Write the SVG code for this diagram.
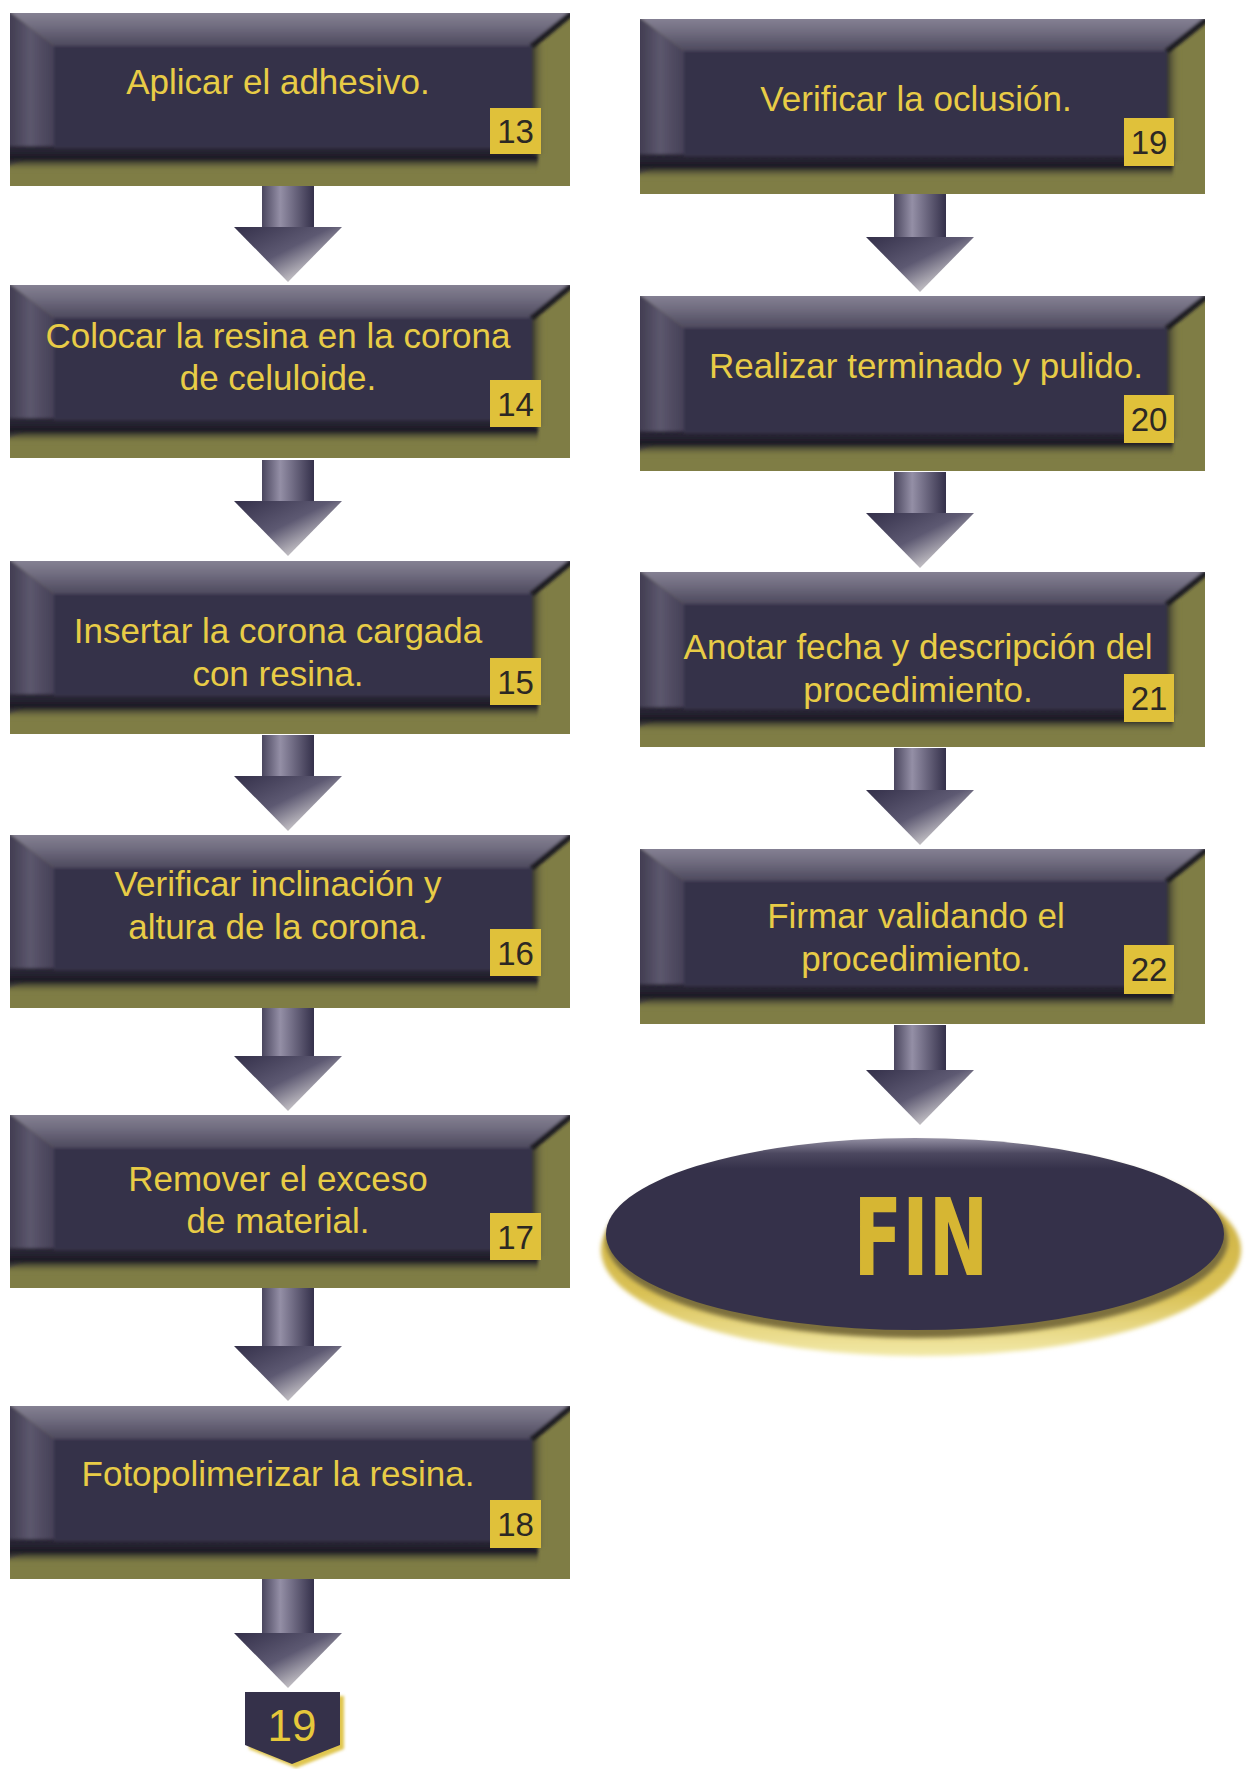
<svg xmlns="http://www.w3.org/2000/svg" xmlns:xlink="http://www.w3.org/1999/xlink" width="1246" height="1769" viewBox="0 0 1246 1769">
<style>
.t{font-family:"Liberation Sans",Arial,sans-serif;font-size:35px;fill:#e8cc46;text-anchor:middle}
.bd{fill:#e0c13a}
.bn{font-family:"Liberation Sans",Arial,sans-serif;font-size:33px;fill:#2c2824;text-anchor:middle}
.sh{fill:url(#gShaft)}
.hd{fill:url(#gHead)}
</style>
<defs>
<linearGradient id="gTop" x1="0" y1="0" x2="0" y2="1">
<stop offset="0" stop-color="#8a8698"/><stop offset="0.45" stop-color="#716d80"/><stop offset="1" stop-color="#4d495d"/>
</linearGradient>
<linearGradient id="gLeft" x1="0" y1="0" x2="1" y2="0">
<stop offset="0" stop-color="#3c384c"/><stop offset="0.5" stop-color="#5c576d"/><stop offset="1" stop-color="#443f56"/>
</linearGradient>
<linearGradient id="gBot" x1="0" y1="0" x2="0" y2="1">
<stop offset="0" stop-color="#2c2838"/><stop offset="0.5" stop-color="#1c1a24"/><stop offset="1" stop-color="#7f7d45" stop-opacity="0"/>
</linearGradient>
<linearGradient id="gRight" x1="0" y1="0" x2="1" y2="0">
<stop offset="0" stop-color="#1c1a24"/><stop offset="1" stop-color="#7f7d45" stop-opacity="0"/>
</linearGradient>
<linearGradient id="gShaft" x1="0" y1="0" x2="1" y2="0">
<stop offset="0" stop-color="#4a465e"/><stop offset="0.35" stop-color="#948fa6"/><stop offset="1" stop-color="#34304a"/>
</linearGradient>
<linearGradient id="gHead" x1="0" y1="0" x2="1" y2="1">
<stop offset="0" stop-color="#34304a"/><stop offset="0.45" stop-color="#5d5972"/><stop offset="0.72" stop-color="#b8b5bc"/><stop offset="1" stop-color="#faf9e8"/>
</linearGradient>
<linearGradient id="gEll" x1="0" y1="0" x2="0" y2="1">
<stop offset="0" stop-color="#9490a4"/><stop offset="0.08" stop-color="#4c4860"/><stop offset="0.16" stop-color="#35314a"/><stop offset="1" stop-color="#35314a"/>
</linearGradient>
<linearGradient id="gGold" x1="0" y1="0" x2="0" y2="1">
<stop offset="0" stop-color="#c8a83a"/><stop offset="0.7" stop-color="#d9c155"/><stop offset="1" stop-color="#f2e9a8"/>
</linearGradient>
<filter id="blur2" x="-10%" y="-10%" width="120%" height="120%"><feGaussianBlur stdDeviation="2"/></filter>
<filter id="blur1" x="-10%" y="-10%" width="120%" height="120%"><feGaussianBlur stdDeviation="1.5"/></filter>
<clipPath id="cL"><rect width="560" height="173"/></clipPath>
<clipPath id="cR"><rect width="565" height="175"/></clipPath>
<g id="boxL">
<rect width="560" height="173" fill="#7f7d45"/>
<g clip-path="url(#cL)"><g filter="url(#blur1)">
<path d="M-4,-4 H566 L522,33 H44 Z" fill="url(#gTop)"/>
<path d="M-4,-4 L44,33 V135 L-4,154 Z" fill="url(#gLeft)"/>
<rect x="-4" y="133" width="532" height="26" fill="url(#gBot)"/>
<rect x="520" y="30" width="16" height="112" fill="url(#gRight)"/>
<path d="M562,0 L522,33" stroke="#1c1a24" stroke-width="6"/>
<rect x="44" y="33" width="478" height="102" fill="#35314a"/>
</g></g>
</g>
<g id="boxR">
<rect width="565" height="175" fill="#7f7d45"/>
<g clip-path="url(#cR)"><g filter="url(#blur1)">
<path d="M-4,-4 H571 L527,32 H44 Z" fill="url(#gTop)"/>
<path d="M-4,-4 L44,32 V137 L-4,156 Z" fill="url(#gLeft)"/>
<rect x="-4" y="135" width="537" height="26" fill="url(#gBot)"/>
<rect x="525" y="29" width="16" height="114" fill="url(#gRight)"/>
<path d="M567,0 L527,32" stroke="#1c1a24" stroke-width="6"/>
<rect x="44" y="32" width="483" height="105" fill="#35314a"/>
</g></g>
</g>
</defs>
<rect width="1246" height="1769" fill="#ffffff"/>

<g id="connectors">
<g><rect class="sh" x="262" y="186" width="52" height="42"/><path class="hd" d="M234,227 H342 L288,282 Z"/></g>
<g><rect class="sh" x="262" y="460" width="52" height="42"/><path class="hd" d="M234,501 H342 L288,556 Z"/></g>
<g><rect class="sh" x="262" y="735" width="52" height="42"/><path class="hd" d="M234,776 H342 L288,831 Z"/></g>
<g><rect class="sh" x="262" y="1008" width="52" height="49"/><path class="hd" d="M234,1056 H342 L288,1111 Z"/></g>
<g><rect class="sh" x="262" y="1288" width="52" height="59"/><path class="hd" d="M234,1346 H342 L288,1401 Z"/></g>
<g><rect class="sh" x="262" y="1579" width="52" height="55"/><path class="hd" d="M234,1633 H342 L288,1688 Z"/></g>
<g><rect class="sh" x="894" y="194" width="52" height="44"/><path class="hd" d="M866,237 H974 L920,292 Z"/></g>
<g><rect class="sh" x="894" y="472" width="52" height="42"/><path class="hd" d="M866,513 H974 L920,568 Z"/></g>
<g><rect class="sh" x="894" y="748" width="52" height="43"/><path class="hd" d="M866,790 H974 L920,845 Z"/></g>
<g><rect class="sh" x="894" y="1025" width="52" height="46"/><path class="hd" d="M866,1070 H974 L920,1125 Z"/></g>
</g>

<g id="n13"><use xlink:href="#boxL" x="10" y="13"/><text class="t" x="278" y="94">Aplicar el adhesivo.</text><rect class="bd" x="490" y="108" width="51" height="46"/><text class="bn" x="515.5" y="143">13</text></g>
<g id="n14"><use xlink:href="#boxL" x="10" y="285"/><text class="t" x="278" y="348">Colocar la resina en la corona</text><text class="t" x="278" y="390">de celuloide.</text><rect class="bd" x="490" y="380" width="51" height="47"/><text class="bn" x="515.5" y="416">14</text></g>
<g id="n15"><use xlink:href="#boxL" x="10" y="561"/><text class="t" x="278" y="643">Insertar la corona cargada</text><text class="t" x="278" y="686">con resina.</text><rect class="bd" x="490" y="658" width="51" height="47"/><text class="bn" x="515.5" y="694">15</text></g>
<g id="n16"><use xlink:href="#boxL" x="10" y="835"/><text class="t" x="278" y="896">Verificar inclinación y</text><text class="t" x="278" y="939">altura de la corona.</text><rect class="bd" x="490" y="929" width="51" height="47"/><text class="bn" x="515.5" y="965">16</text></g>
<g id="n17"><use xlink:href="#boxL" x="10" y="1115"/><text class="t" x="278" y="1191">Remover el exceso</text><text class="t" x="278" y="1233">de material.</text><rect class="bd" x="490" y="1213" width="51" height="47"/><text class="bn" x="515.5" y="1249">17</text></g>
<g id="n18"><use xlink:href="#boxL" x="10" y="1406"/><text class="t" x="278" y="1486">Fotopolimerizar la resina.</text><rect class="bd" x="490" y="1500" width="51" height="48"/><text class="bn" x="515.5" y="1536">18</text></g>

<g id="n19"><use xlink:href="#boxR" x="640" y="19"/><text class="t" x="916" y="111">Verificar la oclusión.</text><rect class="bd" x="1124" y="118" width="50" height="48"/><text class="bn" x="1149" y="154">19</text></g>
<g id="n20"><use xlink:href="#boxR" x="640" y="296"/><text class="t" x="926" y="378">Realizar terminado y pulido.</text><rect class="bd" x="1124" y="395" width="50" height="48"/><text class="bn" x="1149" y="431">20</text></g>
<g id="n21"><use xlink:href="#boxR" x="640" y="572"/><text class="t" x="918" y="659">Anotar fecha y descripción del</text><text class="t" x="918" y="702">procedimiento.</text><rect class="bd" x="1124" y="674" width="50" height="48"/><text class="bn" x="1149" y="710">21</text></g>
<g id="n22"><use xlink:href="#boxR" x="640" y="849"/><text class="t" x="916" y="928">Firmar validando el</text><text class="t" x="916" y="971">procedimiento.</text><rect class="bd" x="1124" y="945" width="50" height="49"/><text class="bn" x="1149" y="981">22</text></g>

<g id="fin">
<ellipse cx="921" cy="1250" rx="320" ry="106" fill="url(#gGold)" filter="url(#blur2)"/>
<ellipse cx="917" cy="1240" rx="311" ry="98" fill="#7d6f3c" filter="url(#blur2)"/>
<ellipse cx="915" cy="1234" rx="309" ry="96" fill="url(#gEll)"/>
<text transform="translate(921,1275) scale(0.74,1)" font-family="'DejaVu Sans Condensed','DejaVu Sans',sans-serif" font-weight="bold" font-size="107" fill="#d6b633" text-anchor="middle">FIN</text>
</g>

<g id="off19">
<path d="M249,1696 H344 V1749 L296,1768 L249,1749 Z" fill="#e0c650" filter="url(#blur1)"/>
<path d="M245,1692 H340 V1745 L292,1764 L245,1745 Z" fill="#35314a"/>
<text x="292" y="1741" font-family="'Liberation Sans',Arial,sans-serif" font-size="44" fill="#e6c83a" text-anchor="middle">19</text>
</g>
</svg>
